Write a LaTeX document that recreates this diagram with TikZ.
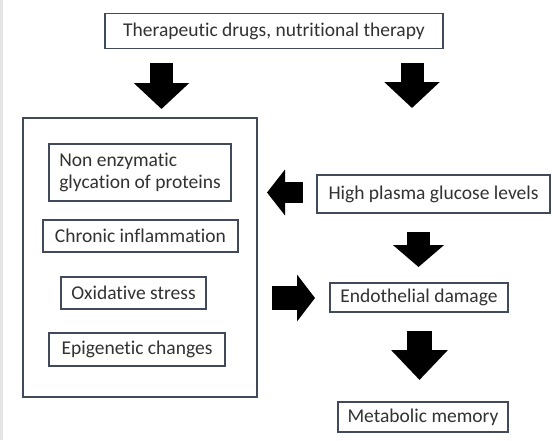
\documentclass[tikz,border=0pt]{standalone}
\usepackage{fontspec}
\setmainfont{Carlito}[Ligatures=NoCommon]
\usetikzlibrary{arrows.meta}
\definecolor{boxline}{RGB}{64,74,90}
\definecolor{boxtext}{RGB}{50,50,50}
\tikzset{
  stepbox/.style={draw=boxline, line width=1.5pt, text=boxtext, inner sep=0pt,
    font=\fontsize{19.5}{22}\selectfont},
  bigarrow/.style={line width=23pt, draw=black,
    -{Triangle[width=54pt,length=26pt]}}
}
\begin{document}
\begin{tikzpicture}[x=1pt,y=-1pt]
\useasboundingbox (0,0) rectangle (552,440);
\fill[white] (0,0) rectangle (552,440);
\fill[black!10] (0,0) rectangle (3,440);
\node[stepbox, minimum width=338pt, minimum height=35pt] (drugs) at (274,31) {Therapeutic drugs, nutritional therapy};
\node[stepbox, minimum width=234pt, minimum height=279pt] (causes) at (140,257.5) {};
\node[stepbox, minimum width=182pt, minimum height=57pt, align=left] (glyc) at (140,172.5) {Non enzymatic\\glycation of proteins};
\node[stepbox, minimum width=195pt, minimum height=32pt] (inflam) at (140.5,236) {Chronic inflammation};
\node[stepbox, minimum width=145pt, minimum height=32pt] (oxid) at (133.5,293) {Oxidative stress};
\node[stepbox, minimum width=176pt, minimum height=33pt] (epig) at (137,349.5) {Epigenetic changes};
\node[stepbox, minimum width=233pt, minimum height=38pt] (gluc) at (433.5,194) {High plasma glucose levels};
\node[stepbox, minimum width=178pt, minimum height=29pt] (endo) at (419,297.5) {Endothelial damage};
\node[stepbox, minimum width=170pt, minimum height=30pt] (memo) at (423,417) {Metabolic memory};
% block arrows
\coordinate (a1s) at (161.5,63);  \coordinate (a1e) at (161.5,109);
\coordinate (a2s) at (412,63);    \coordinate (a2e) at (412,108);
\coordinate (a3s) at (303,192.5); \coordinate (a3e) at (267,192.5);
\coordinate (a4s) at (272,298);   \coordinate (a4e) at (315,298);
\coordinate (a5s) at (418.5,232); \coordinate (a5e) at (418.5,267);
\coordinate (a6s) at (419.5,331); \coordinate (a6e) at (419.5,380);
\draw[bigarrow] (a1s) -- (a1e);
\draw[bigarrow] (a2s) -- (a2e);
\draw[bigarrow, line width=21pt, -{Triangle[width=45pt,length=18pt]}] (a3s) -- (a3e);
\draw[bigarrow, line width=24pt, -{Triangle[width=46pt,length=18pt]}] (a4s) -- (a4e);
\draw[bigarrow, -{Triangle[width=50pt,length=22pt]}] (a5s) -- (a5e);
\draw[bigarrow, line width=25pt, -{Triangle[width=55pt,length=30pt]}] (a6s) -- (a6e);
\end{tikzpicture}
\end{document}
